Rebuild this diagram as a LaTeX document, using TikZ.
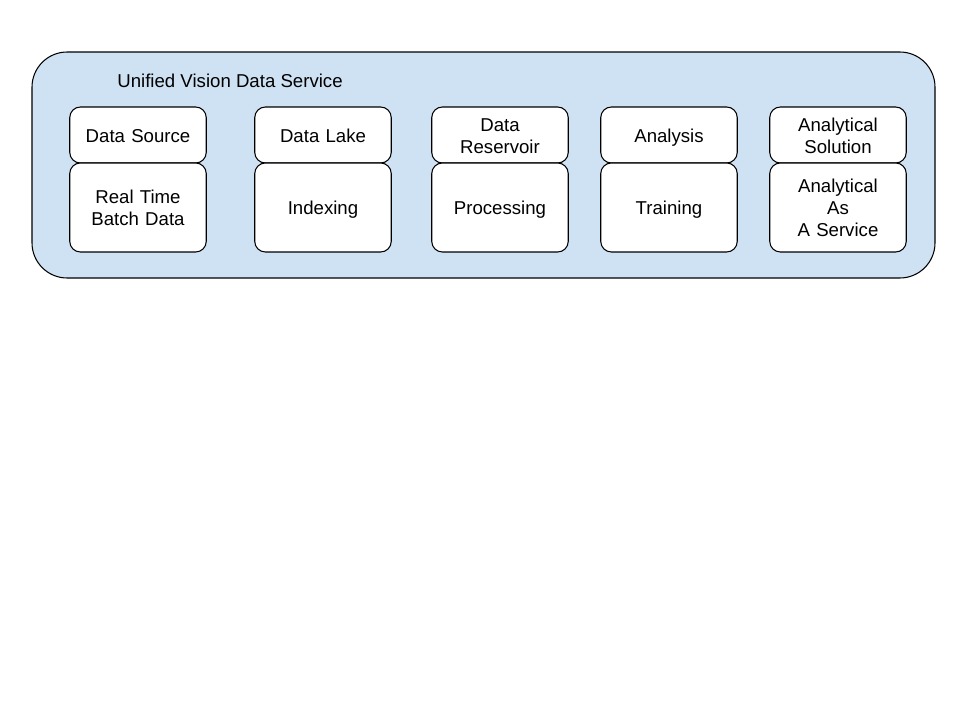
\documentclass[tikz,border=0pt]{standalone}
\usepackage{fontspec}
\setmainfont{Liberation Sans}
\usepackage{tikz}
\usetikzlibrary{positioning}
\definecolor{servicebg}{HTML}{CFE2F3}

\begin{document}
\begin{tikzpicture}[x=0.02cm, y=-0.02cm,
    stage/.style={rectangle, draw, rounded corners=6pt, fill=white, align=center,
                  font=\fontsize{10.6}{12.5}\selectfont, line width=0.6pt, text width=2.6cm,
                  execute at begin node={\rule{0pt}{10.5pt}},
                  execute at end node={\vphantom{g}},
                  minimum width=2.73cm, minimum height=1.12cm, inner sep=0pt, outer sep=0pt},
    task/.style={stage, minimum height=1.78cm}
]
    \useasboundingbox (0,0) rectangle (960,720);

    % Service container
    \draw[fill=servicebg, rounded corners=20pt, line width=0.6pt] (32,52) rectangle (935,278);
    \node[anchor=west, inner sep=0pt, font=\fontsize{10.6}{12.5}\selectfont] (title) at (117,81)
        {Unified Vision Data Service};

    % Top row
    \node[stage] (source)    at (138,135) {Data Source};
    \node[stage] (lake)      at (323,135) {Data Lake};
    \node[stage] (reservoir) at (500,135) {Data\\Reservoir};
    \node[stage] (analysis)  at (669,135) {Analysis};
    \node[stage] (solution)  at (838,135) {Analytical\\Solution};

    % Bottom row, stacked under each column
    \node[task, below=0pt of source]    (realtime)   {Real Time\\Batch Data};
    \node[task, below=0pt of lake]      (indexing)   {Indexing};
    \node[task, below=0pt of reservoir] (processing) {Processing};
    \node[task, below=0pt of analysis]  (training)   {Training};
    \node[task, below=0pt of solution]  (aaas)       {Analytical\\As\\A Service};
\end{tikzpicture}
\end{document}
